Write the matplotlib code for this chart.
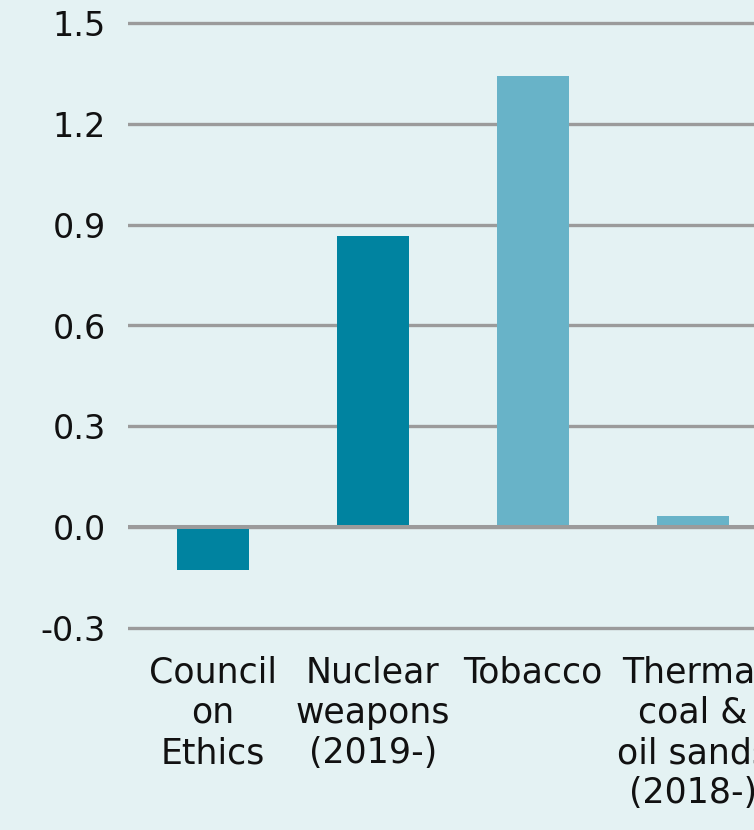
import matplotlib
matplotlib.use("Agg")
import matplotlib.pyplot as plt

# category labels and values for the exclusion groups
categories = ["Council\non\nEthics", "Nuclear\nweapons\n(2019-)", "Tobacco",
              "Thermal\ncoal &\noil sands\n(2018-)"]
values = [-0.128, 0.867, 1.343, 0.033]
bar_colors = ["#0083A0", "#0083A0", "#68B3C8", "#68B3C8"]
y_ticks = [-0.3, 0.0, 0.3, 0.6, 0.9, 1.2, 1.5]

bg = "#E4F2F3"
grid_color = "#9B9B9B"

plt.rcParams['font.family'] = ['DejaVu Sans']

fig = plt.figure(figsize=(7.54, 8.30), dpi=100)
fig.patch.set_facecolor(bg)

# axes run past the right edge of the figure
W, H = 754., 830.
left_px, top_px, bottom_px = 128., 19.6, 631.4
ax = fig.add_axes([left_px / W, (H - bottom_px) / H, (778. - left_px) / W, (bottom_px - top_px) / H])
ax.set_facecolor(bg)

x = list(range(len(categories)))
ax.bar(x, values, width=0.45, color=bar_colors, zorder=2)
ax.axhline(0, color=grid_color, lw=2.9, zorder=3)

ax.set_xlim(-0.53, 3.53)
ax.set_ylim(-0.31, 1.51)
ax.set_yticks(y_ticks)
ax.set_yticklabels(["%.1f" % t for t in y_ticks])
ax.set_xticks(x)
ax.set_xticklabels(categories, multialignment="center", linespacing=1.23, fontsize=25)

ax.yaxis.grid(True, color=grid_color, lw=2.4, zorder=1)
ax.set_axisbelow(True)
for s in ax.spines.values():
    s.set_visible(False)
ax.tick_params(axis="both", length=0, colors="#111111")
ax.tick_params(axis="y", pad=16, labelsize=24)
ax.tick_params(axis="x", pad=17.5)

fig.savefig("out.png", dpi=100, facecolor=bg)
